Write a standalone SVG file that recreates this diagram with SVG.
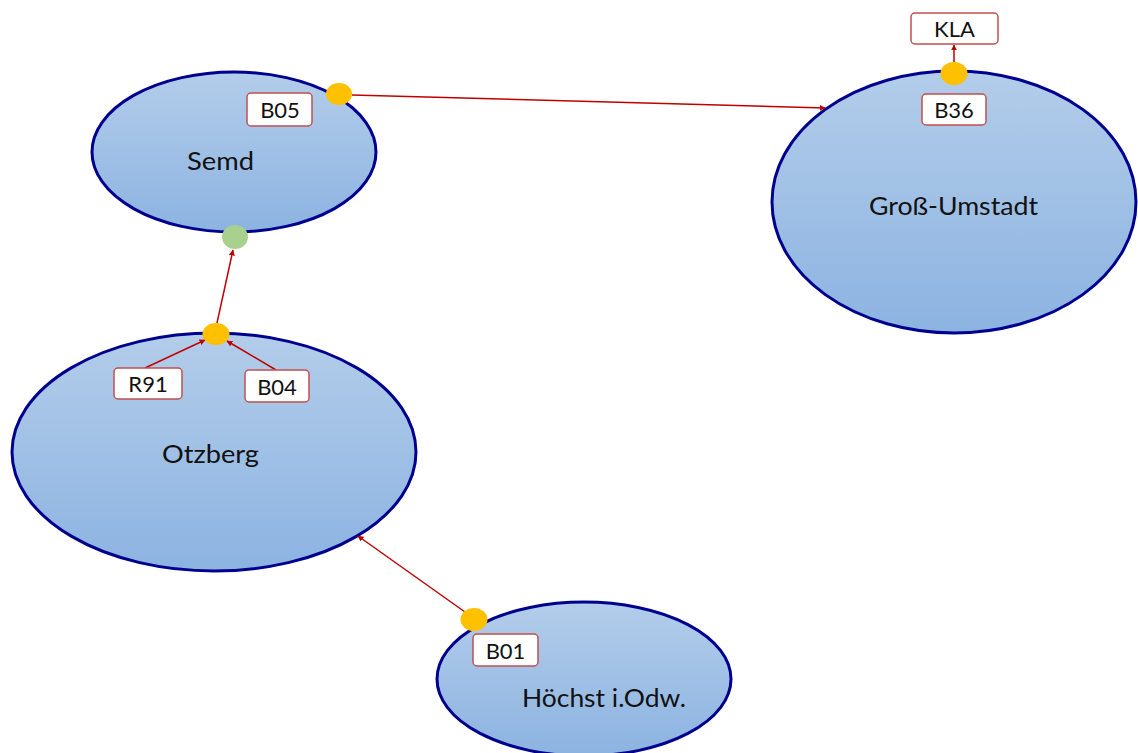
<svg xmlns="http://www.w3.org/2000/svg" width="1138" height="753" viewBox="0 0 1138 753">
<defs>
<linearGradient id="g" x1="0" y1="0" x2="0" y2="1">
<stop offset="0" stop-color="#B3CDEA"/>
<stop offset="1" stop-color="#8CB3E1"/>
</linearGradient>
<marker id="ah" viewBox="0 0 10 10" refX="9" refY="5" markerWidth="6" markerHeight="6" orient="auto" markerUnits="userSpaceOnUse">
<path d="M0,0 L10,5 L0,10 z" fill="#C00000"/>
</marker>
<style>
.city{fill:url(#g);stroke:#00008E;stroke-width:3}
.name{font-family:Lato,"Open Sans",sans-serif;font-size:25px;fill:#111;text-anchor:middle}
.lbl rect{fill:#fff;stroke:#C0504D;stroke-width:1.5}
.lbl text{font-family:Lato,"Open Sans",sans-serif;font-size:22px;fill:#111;text-anchor:middle}
.dot{fill:#FFC000}
.gdot{fill:#A9D18E}
.conn line{stroke:#C00000;stroke-width:1.5;marker-end:url(#ah)}
</style>
</defs>
<rect width="1138" height="753" fill="#fff"/>
<g id="semd">
<ellipse class="city" cx="234" cy="152" rx="142" ry="80"/>
<text class="name" x="220.5" y="170" textLength="67" lengthAdjust="spacingAndGlyphs">Semd</text>
</g>
<g id="gross-umstadt">
<ellipse class="city" cx="954" cy="202" rx="182" ry="131"/>
<text class="name" x="953.5" y="215" textLength="169" lengthAdjust="spacingAndGlyphs">Groß-Umstadt</text>
</g>
<g id="otzberg">
<ellipse class="city" cx="214" cy="452" rx="202" ry="119"/>
<text class="name" x="210.5" y="463" textLength="97" lengthAdjust="spacingAndGlyphs">Otzberg</text>
</g>
<g id="hoechst">
<ellipse class="city" cx="584" cy="679" rx="147" ry="77"/>
<text class="name" x="604" y="707" textLength="164" lengthAdjust="spacingAndGlyphs">Höchst i.Odw.</text>
</g>
<g id="connectors" class="conn">
<line x1="352" y1="95" x2="825" y2="108"/>
<line x1="217" y1="323" x2="233" y2="250"/>
<line x1="145" y1="368" x2="205" y2="340"/>
<line x1="276" y1="370" x2="227" y2="341"/>
<line x1="465" y1="612" x2="358" y2="536"/>
<line x1="954" y1="62" x2="954" y2="45"/>
</g>
<g id="dots">
<ellipse class="dot" cx="339" cy="94" rx="13" ry="11"/>
<ellipse class="dot" cx="954" cy="73.5" rx="13.5" ry="11.5"/>
<ellipse class="gdot" cx="235" cy="237" rx="13" ry="12"/>
<ellipse class="dot" cx="216" cy="334" rx="13.5" ry="11"/>
<ellipse class="dot" cx="474" cy="619.5" rx="13.5" ry="11.5"/>
</g>
<g id="lbl-kla" class="lbl"><rect x="911" y="13" width="87" height="31" rx="4"/><text x="954.5" y="37">KLA</text></g>
<g id="lbl-b36" class="lbl"><rect x="922" y="94" width="64" height="31" rx="4"/><text x="954" y="118">B36</text></g>
<g id="lbl-b05" class="lbl"><rect x="247" y="93" width="65" height="33" rx="4"/><text x="280" y="118">B05</text></g>
<g id="lbl-r91" class="lbl"><rect x="114" y="368" width="68" height="31" rx="4"/><text x="148" y="392">R91</text></g>
<g id="lbl-b04" class="lbl"><rect x="245" y="370" width="64" height="32" rx="4"/><text x="277" y="395">B04</text></g>
<g id="lbl-b01" class="lbl"><rect x="473" y="634" width="65" height="32" rx="4"/><text x="505.5" y="659">B01</text></g>
</svg>
